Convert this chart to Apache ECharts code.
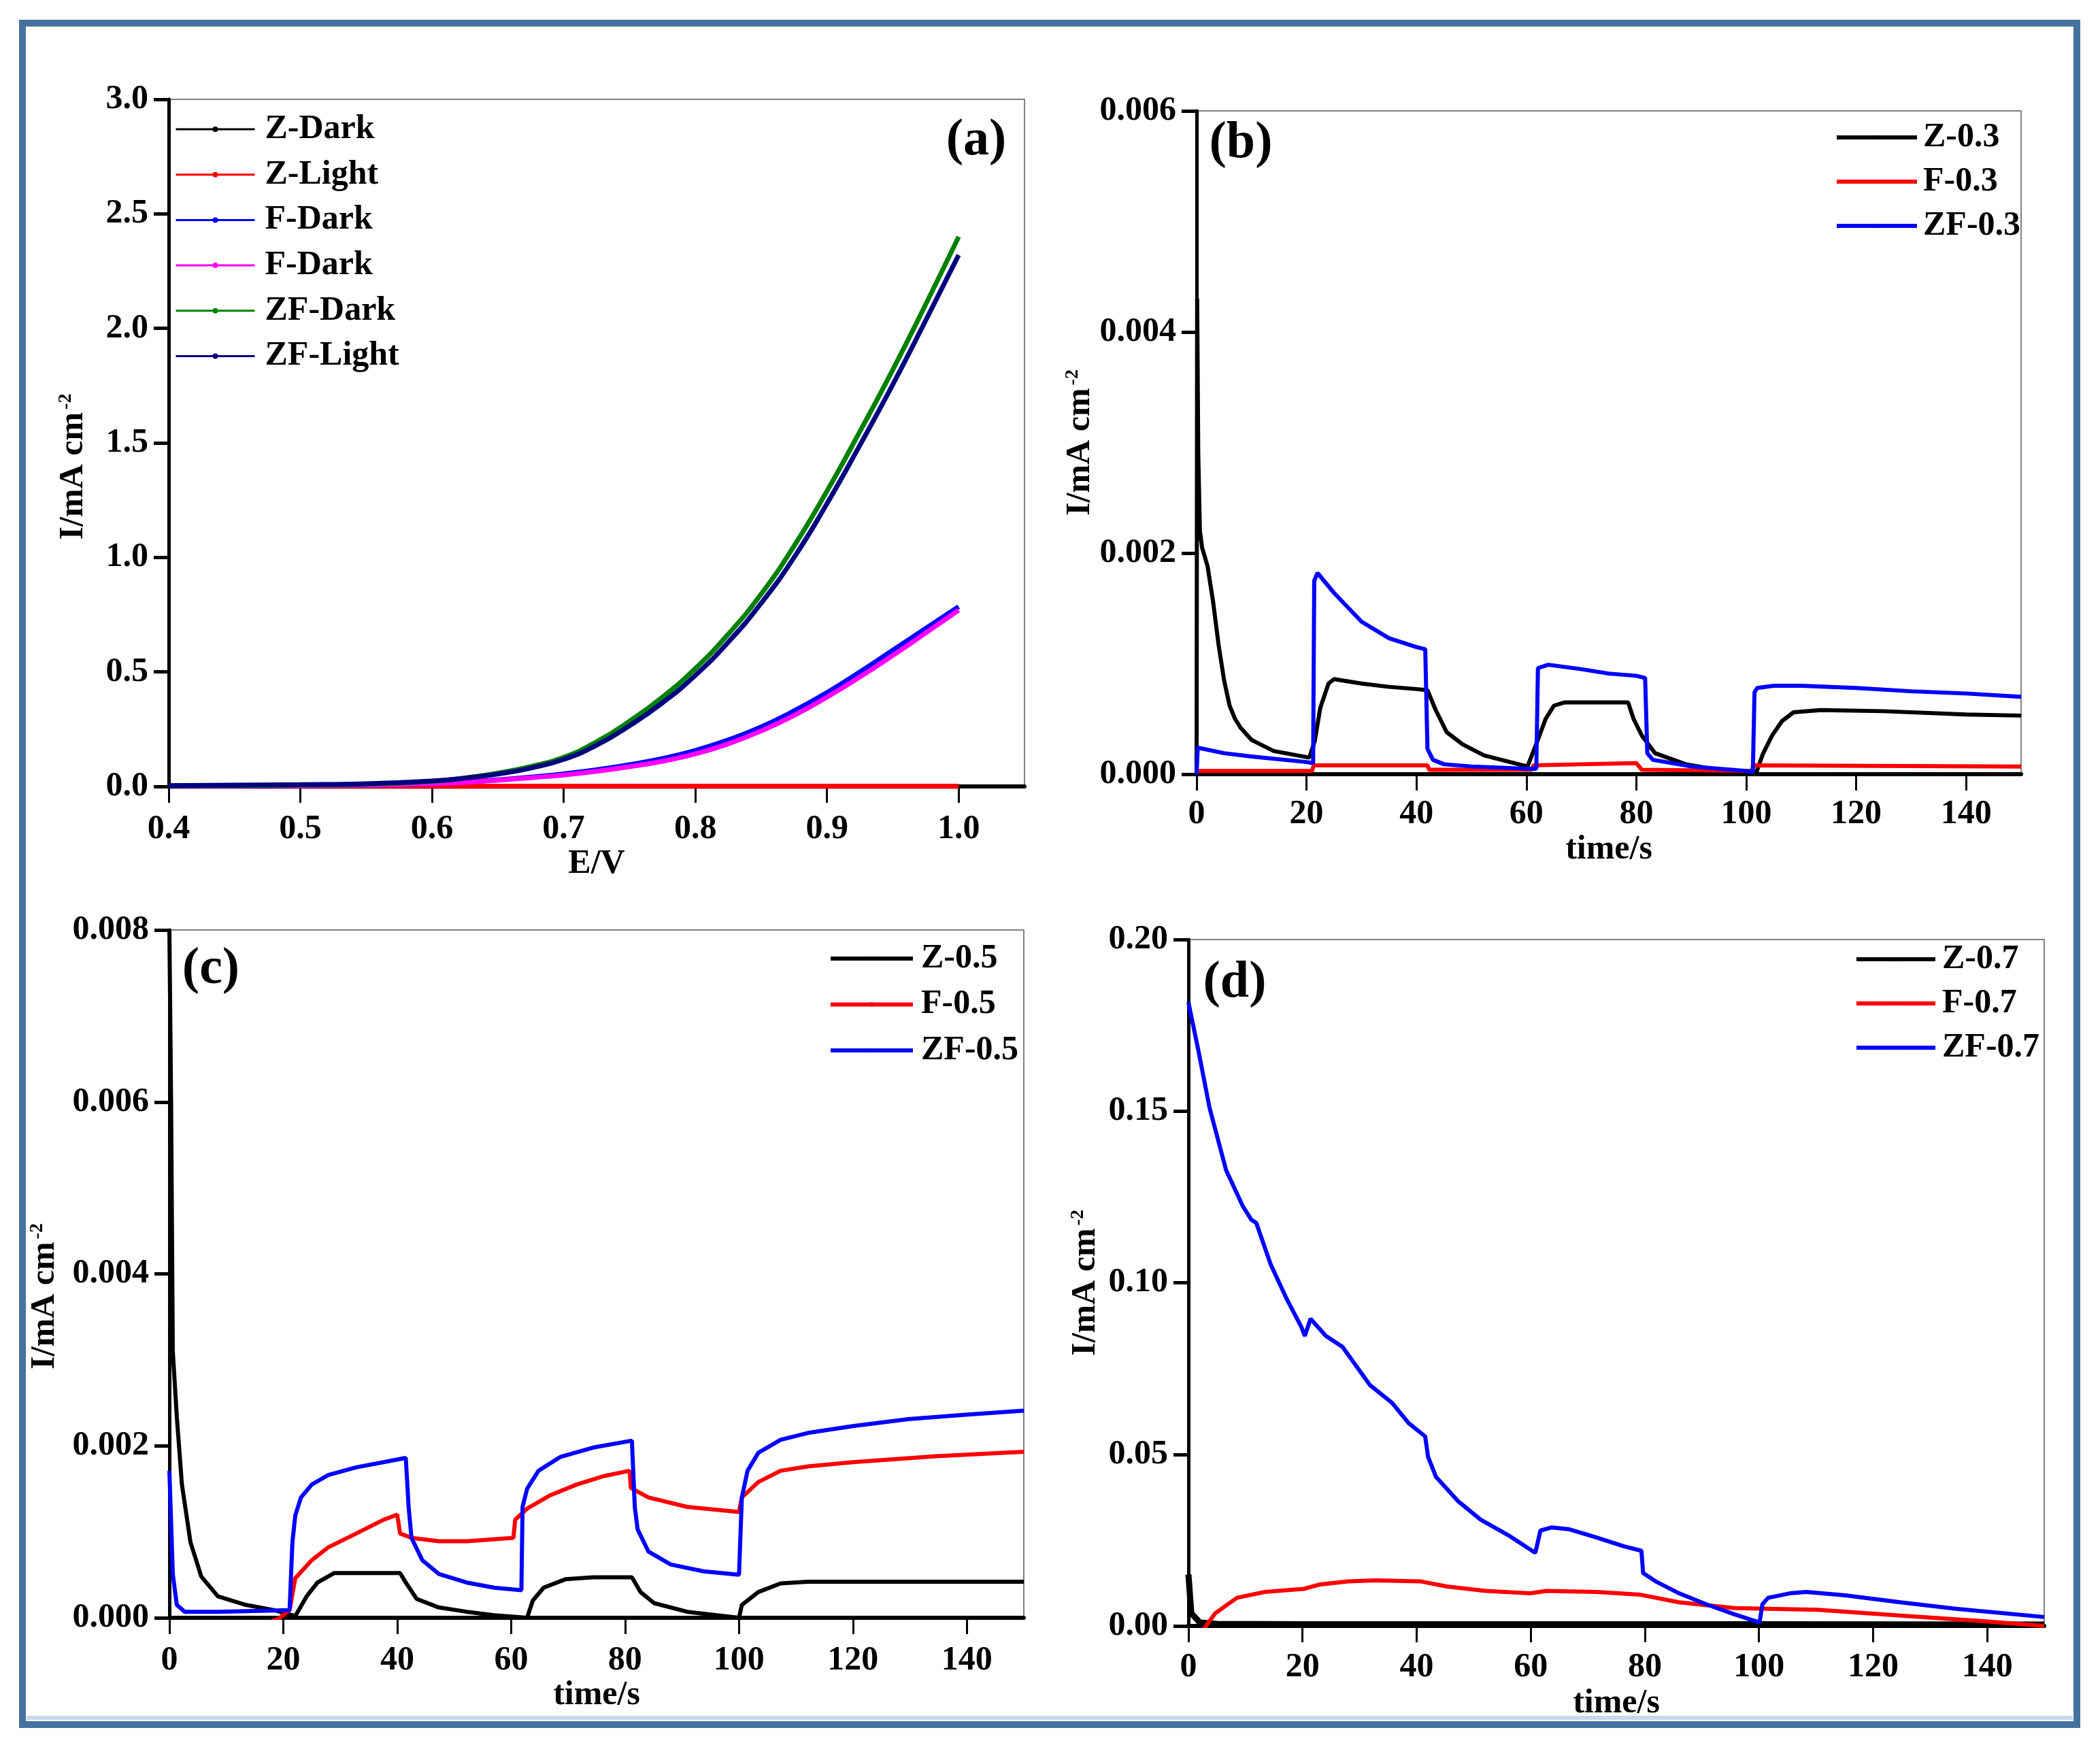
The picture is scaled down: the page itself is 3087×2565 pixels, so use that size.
<!DOCTYPE html>
<html><head><meta charset="utf-8">
<script src="https://cdn.jsdelivr.net/npm/echarts@6/dist/echarts.min.js"></script>
<style>html,body{margin:0;padding:0;background:#fff}#c{width:3087px;height:2565px}</style>
</head><body><div id="c"></div>
<script>
// ---------- Panel (a): LSV curves ----------
const E_a = [0.40,0.45,0.50,0.55,0.60,0.625,0.65,0.675,0.70,0.725,0.75,0.775,0.80,0.825,0.85,0.875,0.90,0.925,0.95,0.975,1.00];
const zDark  = [0,0,0,0,0,0,0,0,0,0,0,0,0,0,0,0,0,0,0,0,0];
const zLight = [0.001,0.001,0.001,0.001,0.001,0.001,0.001,0.001,0.001,0.001,0.001,0.001,0.001,0.001,0.001,0.001,0.001,0.001,0.001,0.001,0.001];
const fDark  = [0.001,0.002,0.003,0.005,0.012,0.019,0.029,0.041,0.055,0.073,0.095,0.122,0.157,0.203,0.260,0.330,0.410,0.500,0.595,0.690,0.785];
const fDark2 = [0.002,0.003,0.004,0.006,0.012,0.018,0.027,0.038,0.050,0.066,0.086,0.110,0.142,0.186,0.242,0.310,0.390,0.478,0.572,0.670,0.770];
const zfDark = [0.003,0.004,0.006,0.010,0.022,0.037,0.058,0.087,0.127,0.195,0.285,0.390,0.515,0.665,0.840,1.050,1.290,1.550,1.820,2.105,2.400];
const zfLight= [0.004,0.006,0.008,0.012,0.024,0.036,0.054,0.080,0.118,0.180,0.265,0.365,0.485,0.630,0.800,1.000,1.235,1.490,1.755,2.035,2.320];
const ticksA_x = [0.4,0.5,0.6,0.7,0.8,0.9,1.0];

// ---------- Panel (b): 0.3 V ----------
const z03 = [[0,0],[0.1,0.0043],[0.3,0.0029],[0.6,0.0022],[1,0.00205],[2,0.00188],[3,0.00156],[4,0.00117],[5,0.00085],[6,0.00062],[7,0.0005],[8,0.00042],[10,0.00031],[14,0.00021],[20.5,0.00015],[21.5,0.0003],[22.5,0.0006],[24,0.00082],[25,0.00086],[30,0.00082],[35,0.00079],[40,0.00077],[42,0.00076],[43.5,0.00058],[45.5,0.00038],[48.4,0.00027],[52.3,0.00017],[57,0.00011],[60.2,0.00007],[62,0.0003],[63.5,0.0005],[65,0.00062],[67,0.00065],[78.5,0.00065],[79.5,0.0005],[81,0.00035],[83.4,0.00019],[89,0.00009],[96,0.00003],[101.8,0.00001],[103,0.00018],[104.7,0.00035],[106.5,0.00048],[108.6,0.00056],[113.5,0.00058],[125,0.00057],[140,0.00054],[150,0.00053]];
const f03 = [[0,0.00003],[21,0.00003],[21.3,0.00008],[42,0.00008],[42.3,0.00004],[61,0.00004],[61.3,0.00008],[70,0.00009],[80,0.0001],[81,0.00004],[101,0.00003],[101.3,0.00008],[150,0.00007]];
const zf03 = [[0,0],[0.2,0.00024],[5,0.00019],[10,0.00016],[20,0.00011],[21.2,0.0001],[21.4,0.00175],[22,0.00182],[25,0.00164],[30,0.00138],[35,0.00123],[40,0.00115],[41.6,0.00113],[42,0.00023],[43,0.00013],[45,0.00009],[50,0.00007],[60,0.00005],[61.8,0.00005],[62.1,0.00096],[64,0.00099],[70,0.00095],[75,0.00091],[80,0.00089],[81.6,0.00087],[82,0.00019],[83,0.00013],[90,0.00007],[100,0.00003],[101.2,0.00002],[101.5,0.00074],[102,0.00078],[105,0.0008],[110,0.0008],[120,0.00078],[130,0.00075],[140,0.00073],[150,0.0007]];

// ---------- Panel (c): 0.5 V ----------
const z05 = [[0,0.008],[0.3,0.006],[0.6,0.0031],[1.3,0.00234],[2.2,0.00155],[3.7,0.00088],[5.6,0.00048],[8.5,0.00025],[13.4,0.00015],[18.3,0.00009],[22.1,0.00002],[24.1,0.00025],[26,0.00041],[28.9,0.00052],[40.5,0.00052],[41.5,0.00041],[43.4,0.00022],[47.3,0.00012],[52.2,0.00007],[57,0.00003],[62.8,0],[63.8,0.0002],[65.7,0.00035],[69.6,0.00045],[74.4,0.00047],[81.2,0.00047],[82.7,0.0003],[85.1,0.00017],[90.9,0.00007],[100,0],[100.5,0.00015],[103.4,0.0003],[107.3,0.0004],[112.1,0.00042],[150,0.00042]];
const f05 = [[17.3,-0.00006],[19.2,-0.00001],[21.1,0.00009],[22.1,0.00046],[25,0.00067],[27.9,0.00082],[32.8,0.00098],[37.6,0.00114],[40,0.0012],[40.5,0.00098],[42.5,0.00093],[47.3,0.00089],[52.2,0.00089],[60.4,0.00093],[60.7,0.00114],[62.8,0.00127],[66.7,0.00142],[71.5,0.00155],[76.4,0.00165],[80.8,0.00171],[81,0.00151],[84.1,0.0014],[90.9,0.00129],[100,0.00123],[100.5,0.0014],[103.4,0.00158],[107.3,0.00171],[112.1,0.00176],[120,0.00181],[134.6,0.00188],[150,0.00193]];
const zf05 = [[0,0.00171],[0.6,0.00051],[1.3,0.00015],[2.7,0.00007],[8.5,0.00007],[21.1,0.00009],[21.6,0.00088],[22.1,0.00119],[23.1,0.0014],[25,0.00155],[27.9,0.00166],[32.8,0.00175],[37.6,0.00181],[41.5,0.00186],[42,0.00129],[42.5,0.00093],[44.4,0.00067],[47.3,0.00051],[52.2,0.00041],[57,0.00035],[61.8,0.00032],[62,0.00129],[62.8,0.0015],[64.8,0.00171],[68.6,0.00187],[74.4,0.00198],[81.2,0.00206],[81.7,0.00129],[82.2,0.00103],[84.1,0.00077],[88,0.00062],[93.8,0.00054],[100,0.0005],[100.5,0.0014],[101.5,0.00171],[103.4,0.00192],[107.3,0.00207],[112.1,0.00215],[120,0.00223],[129.7,0.00231],[139.4,0.00236],[150,0.00241]];

// ---------- Panel (d): 0.7 V ----------
const z07 = [[0,0.015],[0.5,0.0037],[2,0.001],[5,0.0006],[20,0.0005],[60,0.0005],[100,0.0005],[150,0.0004]];
const f07 = [[2.7,-0.0009],[4.7,0.0037],[8.5,0.0082],[13.4,0.0099],[20.2,0.0108],[23.1,0.0121],[28,0.013],[32.8,0.0133],[40.6,0.013],[45.3,0.0115],[52.1,0.0102],[59.9,0.0095],[62.8,0.0102],[71.5,0.0099],[79.2,0.0091],[86,0.0069],[95.7,0.0052],[110.3,0.0047],[124.8,0.003],[139.4,0.0014],[150,0]];
const zf07 = [[0,0.1817],[1.7,0.168],[3.7,0.151],[6.6,0.1328],[9.5,0.1224],[11,0.1184],[11.9,0.1174],[14.4,0.1054],[17.3,0.095],[19.8,0.0871],[20.4,0.0845],[21.4,0.0895],[24.1,0.0845],[27,0.0813],[31.8,0.0702],[35.7,0.065],[38.6,0.0591],[41.5,0.0552],[42,0.0493],[43.4,0.0434],[47.3,0.0363],[51.2,0.031],[56,0.0265],[60.8,0.0213],[61.7,0.0278],[63.7,0.0287],[66.6,0.0282],[71.5,0.0258],[76.3,0.0232],[79.4,0.0219],[79.7,0.0154],[82.1,0.0128],[86,0.0095],[90.8,0.0063],[95.7,0.0034],[100.1,0.001],[100.6,0.0063],[101.6,0.0082],[105.4,0.0095],[108.3,0.0099],[115.1,0.0089],[124.8,0.0069],[134.5,0.005],[150,0.0026]];

const timeTicks = [0,20,40,60,80,100,120,140];

const FF = '"Liberation Serif","Times New Roman",serif';
const chart = echarts.init(document.getElementById('c'), null, {renderer:'canvas'});

const grids = [
  {left:248, top:146, width:1258, height:1010},
  {left:1759, top:163, width:1212, height:975},
  {left:249, top:1367, width:1256, height:1011},
  {left:1747, top:1381, width:1258, height:1009}
].map(g => Object.assign({show:true, borderColor:'#808080', borderWidth:2, backgroundColor:'transparent', containLabel:false, outerBoundsMode:'none'}, g));

function xAx(gi, min, max, ticks, fmt, name, gap, margin) {
  return {
    type:'value', gridIndex:gi, min:min, max:max,
    axisLine:{show:true, onZero:false, lineStyle:{color:'#000', width:6}},
    axisTick:{show:true, inside:false, length:24, lineStyle:{color:'#000', width:3}, customValues:ticks},
    axisLabel:{show:true, margin:margin, color:'#000', fontSize:50, fontWeight:'bold', fontFamily:FF, customValues:ticks, formatter:fmt},
    splitLine:{show:false},
    name:name, nameLocation:'middle', nameGap:gap,
    nameTextStyle:{color:'#000', fontSize:50, fontWeight:'bold', fontFamily:FF}
  };
}
function yAx(gi, min, max, interval, dec, gap, shift) {
  return {
    type:'value', gridIndex:gi, min:min, max:max, interval:interval,
    axisLine:{show:true, onZero:false, lineStyle:{color:'#000', width:5}},
    axisTick:{show:true, inside:false, length:22, lineStyle:{color:'#000', width:5}},
    axisLabel:{show:true, margin:30, color:'#000', fontSize:50, fontWeight:'bold', fontFamily:FF, formatter:v => v.toFixed(dec)},
    splitLine:{show:false},
    name:'{b|I/mA cm}{s|-2}', nameLocation:'middle', nameGap:gap, nameRotate:90,
    nameTextStyle:{color:'#000', fontFamily:FF, padding:[0, shift, 0, 0],
      rich:{ b:{fontSize:50, fontWeight:'bold', fontFamily:FF, color:'#000', lineHeight:50},
             s:{fontSize:28, fontWeight:'bold', fontFamily:FF, color:'#000', verticalAlign:'top', lineHeight:28, padding:[0,0,0,4]} }}
  };
}

function legend(gi, names, left, top, w, gap, pad, lw) {
  return {
    show:true, orient:'vertical', left:left, top:top, padding:0, itemGap:gap,
    itemWidth:w, itemHeight:lw > 3 ? 8 : 10, data:names, selectedMode:false,
    lineStyle:{width:lw},
    textStyle:{color:'#000', fontSize:50, fontWeight:'bold', fontFamily:FF, lineHeight:50, padding:[0,0,0,pad]}
  };
}

function ser(name, gi, data, color, lw, symbol) {
  return {
    name:name, type:'line', xAxisIndex:gi, yAxisIndex:gi, data:data,
    symbol:symbol || 'none', symbolSize:8, showSymbol:false, smooth:false,
    lineStyle:{color:color, width:lw}, itemStyle:{color:color},
    emphasis:{disabled:true}, animation:false, clip:true
  };
}
function zipA(ys){ return E_a.map((e,i)=>[e, ys[i]]); }

const sA = [
  ['Z-Dark', zDark, '#000000'], ['Z-Light', zLight, '#ff0000'], ['F-Dark', fDark, '#0000ff'],
  ['F-Dark ', fDark2, '#ff00ff'], ['ZF-Dark', zfDark, '#008000'], ['ZF-Light', zfLight, '#000080']
].map(s => Object.assign(ser(s[0], 0, zipA(s[1]), s[2], 7, 'circle'), {smooth:0.5}));

const series = sA.concat([
  ser('Z-0.3', 1, z03, '#000000', 6), ser('F-0.3', 1, f03, '#ff0000', 6), ser('ZF-0.3', 1, zf03, '#0000ff', 6),
  ser('Z-0.5', 2, z05, '#000000', 6), ser('F-0.5', 2, f05, '#ff0000', 6), ser('ZF-0.5', 2, zf05, '#0000ff', 6),
  ser('Z-0.7', 3, z07, '#000000', 9), ser('F-0.7', 3, f07, '#ff0000', 6), ser('ZF-0.7', 3, zf07, '#0000ff', 6)
]);

const tFmt = v => String(Math.round(v));
const option = {
  backgroundColor:'#ffffff',
  animation:false,
  textStyle:{fontFamily:FF},
  grid:grids,
  xAxis:[
    xAx(0, 0.4, 1.05, ticksA_x, v => v.toFixed(1), 'E/V', 89, 38),
    xAx(1, 0, 150, timeTicks, tFmt, 'time/s', 86, 34),
    xAx(2, 0, 150, timeTicks, tFmt, 'time/s', 88, 38),
    xAx(3, 0, 150, timeTicks, tFmt, 'time/s', 89, 36)
  ],
  yAxis:[
    yAx(0, 0, 3, 0.5, 1, 115, 70),
    yAx(1, 0, 0.006, 0.002, 3, 136, 0),
    yAx(2, 0, 0.008, 0.002, 3, 158, 66),
    yAx(3, 0, 0.20, 0.05, 2, 126, 0)
  ],
  legend:[
    legend(0, ['Z-Dark','Z-Light','F-Dark','F-Dark ','ZF-Dark','ZF-Light'], 257, 165, 116, 16.7, 10, 3),
    legend(1, ['Z-0.3','F-0.3','ZF-0.3'], 2697, 177, 118, 15, 4, 6),
    legend(2, ['Z-0.5','F-0.5','ZF-0.5'], 1218, 1384, 121, 17.5, 7, 6),
    legend(3, ['Z-0.7','F-0.7','ZF-0.7'], 2726, 1385, 116, 15, 5, 6)
  ],
  graphic:[
    {type:'rect', shape:{x:33, y:34, width:3020, height:2501}, style:{fill:'none', stroke:'#44729e', lineWidth:10}, z:100},
    {type:'rect', shape:{x:39, y:2522, width:3008, height:6}, style:{fill:'#c9d8e8'}, z:99},
    {type:'text', x:1435, y:207, style:{text:'(a)', font:'bold 76px ' + FF, fill:'#000', align:'center', verticalAlign:'middle'}, z:100},
    {type:'text', x:1824, y:211, style:{text:'(b)', font:'bold 76px ' + FF, fill:'#000', align:'center', verticalAlign:'middle'}, z:100},
    {type:'text', x:310, y:1425, style:{text:'(c)', font:'bold 76px ' + FF, fill:'#000', align:'center', verticalAlign:'middle'}, z:100},
    {type:'text', x:1815, y:1445, style:{text:'(d)', font:'bold 76px ' + FF, fill:'#000', align:'center', verticalAlign:'middle'}, z:100}
  ],
  series:series
};
chart.setOption(option);
</script></body></html>
